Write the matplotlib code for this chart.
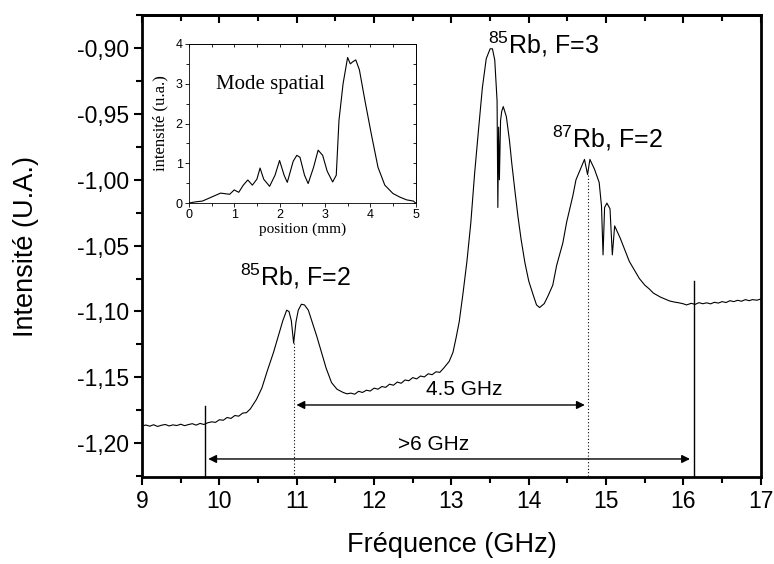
import matplotlib
matplotlib.use("Agg")
import matplotlib.pyplot as plt
from matplotlib.ticker import MultipleLocator, FuncFormatter, NullFormatter

plt.rcParams['font.family'] = ['Liberation Sans', 'DejaVu Sans']
plt.rcParams['mathtext.fontset'] = 'custom'
plt.rcParams['mathtext.rm'] = 'Liberation Sans'

# spectre principal (GHz, U.A.)
freq = [9.00, 9.05, 9.10, 9.15, 9.20, 9.25, 9.30, 9.35, 9.40, 9.45,
        9.50, 9.55, 9.60, 9.65, 9.70, 9.75, 9.80, 9.85, 9.90, 9.95,
        10.00, 10.05, 10.10, 10.15, 10.20, 10.25, 10.30, 10.35, 10.40, 10.48,
        10.55, 10.62, 10.70, 10.76, 10.82, 10.87, 10.90, 10.93, 10.96, 10.99,
        11.02, 11.06, 11.10, 11.15, 11.20, 11.26, 11.32, 11.38, 11.45, 11.52,
        11.60, 11.65, 11.70, 11.75, 11.80, 11.85, 11.90, 11.95, 12.00, 12.05,
        12.10, 12.15, 12.20, 12.25, 12.30, 12.35, 12.40, 12.45, 12.50, 12.55,
        12.60, 12.65, 12.70, 12.75, 12.80, 12.85, 12.90, 12.97, 13.02, 13.06,
        13.10, 13.15, 13.20, 13.25, 13.30, 13.35, 13.40, 13.45, 13.50, 13.53,
        13.56, 13.58, 13.59, 13.60, 13.61, 13.62, 13.635, 13.65, 13.67, 13.71,
        13.75, 13.78, 13.82, 13.86, 13.90, 13.95, 14.00, 14.06, 14.10, 14.14,
        14.20, 14.25, 14.31, 14.36, 14.44, 14.49, 14.57, 14.61, 14.66, 14.72,
        14.76, 14.79, 14.85, 14.91, 14.94, 14.96, 14.98, 15.01, 15.05, 15.08,
        15.11, 15.18, 15.24, 15.30, 15.37, 15.43, 15.50, 15.56, 15.61, 15.70,
        15.82, 15.88, 15.95, 16.00, 16.04, 16.10, 16.15, 16.20, 16.25, 16.30,
        16.35, 16.40, 16.45, 16.50, 16.55, 16.60, 16.65, 16.70, 16.75, 16.80,
        16.85, 16.89, 16.95, 17.00]
intens = [-1.1870, -1.1862, -1.1871, -1.1860, -1.1873, -1.1864, -1.1858, -1.1869, -1.1861, -1.1866,
          -1.1856, -1.1867, -1.1859, -1.1852, -1.1863, -1.1850, -1.1858, -1.1845, -1.1838, -1.1842,
          -1.1822, -1.1826, -1.1805, -1.1812, -1.1790, -1.1795, -1.1772, -1.1768, -1.1740, -1.1667,
          -1.1580, -1.1450, -1.1310, -1.1190, -1.1070, -1.0990, -1.1000, -1.1070, -1.1240, -1.1080,
          -1.0990, -1.0945, -1.0950, -1.0990, -1.1080, -1.1190, -1.1310, -1.1430, -1.1540, -1.1590,
          -1.1615, -1.1625, -1.1620, -1.1628, -1.1606, -1.1615, -1.1598, -1.1604, -1.1582, -1.1590,
          -1.1570, -1.1576, -1.1552, -1.1560, -1.1536, -1.1545, -1.1520, -1.1526, -1.1502, -1.1512,
          -1.1490, -1.1497, -1.1473, -1.1480, -1.1458, -1.1462, -1.1430, -1.1380, -1.1310, -1.1200,
          -1.1080, -1.0860, -1.0620, -1.0330, -0.9950, -0.9620, -0.9300, -0.9080, -0.9005, -0.9005,
          -0.9090, -0.9300, -0.9400, -1.0210, -0.9600, -1.0000, -0.9550, -0.9480, -0.9444, -0.9520,
          -0.9700, -0.9874, -1.0080, -1.0278, -1.0450, -1.0630, -1.0770, -1.0880, -1.0950, -1.0970,
          -1.0940, -1.0880, -1.0800, -1.0650, -1.0480, -1.0320, -1.0120, -1.0000, -0.9930, -0.9845,
          -0.9960, -0.9845, -0.9920, -1.0020, -1.0200, -1.0570, -1.0210, -1.0177, -1.0220, -1.0570,
          -1.0350, -1.0440, -1.0530, -1.0620, -1.0690, -1.0750, -1.0800, -1.0830, -1.0860, -1.0890,
          -1.0920, -1.0928, -1.0935, -1.0942, -1.0950, -1.0938, -1.0946, -1.0933, -1.0941, -1.0934,
          -1.0942, -1.0930, -1.0936, -1.0925, -1.0932, -1.0918, -1.0925, -1.0915, -1.0922, -1.0910,
          -1.0918, -1.0910, -1.0914, -1.0905]

# mode spatial (mm, u.a.)
pos = [0.0, 0.15, 0.3, 0.5, 0.7, 0.9, 1.0, 1.1, 1.2, 1.3,
       1.4, 1.5, 1.57, 1.65, 1.78, 1.9, 2.0, 2.1, 2.17, 2.3,
       2.38, 2.45, 2.55, 2.63, 2.75, 2.85, 2.95, 3.05, 3.17, 3.25,
       3.31, 3.40, 3.50, 3.56, 3.61, 3.68, 3.76, 3.88, 4.02, 4.17,
       4.32, 4.5, 4.65, 4.8, 4.95, 5.0]
mode = [0.0, 0.03, 0.05, 0.15, 0.25, 0.22, 0.33, 0.27, 0.45, 0.58,
        0.45, 0.6, 0.88, 0.6, 0.42, 0.7, 1.07, 0.7, 0.52, 1.05,
        1.2, 1.15, 0.7, 0.49, 0.9, 1.33, 1.2, 0.8, 0.53, 0.7,
        2.08, 3.0, 3.66, 3.5, 3.55, 3.6, 3.35, 2.59, 1.75, 0.9,
        0.45, 0.24, 0.15, 0.08, 0.05, 0.0]

fig = plt.figure(figsize=(7.74, 5.64), dpi=100)
ax = fig.add_axes([0.1835, 0.154, 0.7995, 0.819])

ax.plot(freq, intens, color='black', lw=0.8)

# lignes verticales et fleches
ax.plot([9.81, 9.81], [-1.1717, -1.2258], color='black', lw=1.0)
ax.plot([16.14, 16.14], [-1.077, -1.2258], color='black', lw=1.0)
ax.plot([10.96, 10.96], [-1.124, -1.2258], color='black', lw=0.8, ls=(0, (1, 2)))
ax.plot([14.76, 14.76], [-0.996, -1.2258], color='black', lw=0.8, ls=(0, (1, 2)))
ax.annotate('', xy=(10.96, -1.171), xytext=(14.76, -1.171),
            arrowprops=dict(arrowstyle='<|-|>', color='black', lw=1.0, mutation_scale=12))
ax.annotate('', xy=(9.82, -1.212), xytext=(16.12, -1.212),
            arrowprops=dict(arrowstyle='<|-|>', color='black', lw=1.0, mutation_scale=12))
ax.text(13.16, -1.1595, '4.5 GHz', fontsize=15, ha='center', va='center')
ax.text(12.77, -1.2008, '>6 GHz', fontsize=15, ha='center', va='center')

ax.text(10.27, -1.080, r'$\mathregular{^{85}}$Rb, F=2', fontsize=18, va='baseline')
ax.text(13.47, -0.904, r'$\mathregular{^{85}}$Rb, F=3', fontsize=18, va='baseline')
ax.text(14.30, -0.9758, r'$\mathregular{^{87}}$Rb, F=2', fontsize=18, va='baseline')

ax.set_xlim(9, 17)
ax.set_ylim(-1.2258, -0.875)
ax.xaxis.set_major_locator(MultipleLocator(1))
ax.xaxis.set_minor_locator(MultipleLocator(0.5))
ax.yaxis.set_major_locator(MultipleLocator(0.05))
ax.yaxis.set_minor_locator(MultipleLocator(0.025))
ax.yaxis.set_major_formatter(FuncFormatter(lambda v, p: f"{v:.2f}".replace('.', ',')))
ax.tick_params(which='both', direction='out', width=1.5, labelsize=16.5)
ax.tick_params(which='major', length=6)
ax.tick_params(which='minor', length=4)
for s in ax.spines.values():
    s.set_linewidth(2)

# graduations du haut vers l'interieur
top = ax.secondary_xaxis('top')
top.xaxis.set_major_locator(MultipleLocator(1))
top.xaxis.set_minor_locator(MultipleLocator(0.5))
top.xaxis.set_major_formatter(NullFormatter())
top.tick_params(which='both', direction='in', width=1.5)
top.tick_params(which='major', length=6)
top.tick_params(which='minor', length=4)
top.spines['top'].set_linewidth(2)

ax.set_xlabel('Fréquence (GHz)', fontsize=19.5)
ax.set_ylabel('Intensité (U.A.)', fontsize=19.5)
ax.xaxis.set_label_coords(0.5, -0.118)
ax.yaxis.set_label_coords(-0.166, 0.5)

# encart
ins = fig.add_axes([0.244, 0.640, 0.293, 0.282])
ins.plot(pos, mode, color='black', lw=0.8)
ins.set_xlim(0, 5)
ins.set_ylim(0, 4)
ins.xaxis.set_major_locator(MultipleLocator(1))
ins.xaxis.set_minor_locator(MultipleLocator(0.5))
ins.yaxis.set_major_locator(MultipleLocator(1))
ins.yaxis.set_minor_locator(MultipleLocator(0.5))
ins.tick_params(which='both', direction='out', labelsize=9, pad=1.5, width=0.6)
ins.tick_params(which='major', length=3)
ins.tick_params(which='minor', length=2)
for s in ins.spines.values():
    s.set_linewidth(0.6)

itop = ins.secondary_xaxis('top')
itop.xaxis.set_major_locator(MultipleLocator(1))
itop.xaxis.set_minor_locator(MultipleLocator(0.5))
itop.xaxis.set_major_formatter(NullFormatter())
itop.tick_params(which='both', direction='in', width=0.6, length=2.5)
itop.spines['top'].set_linewidth(0.6)
iright = ins.secondary_yaxis('right')
iright.yaxis.set_major_locator(MultipleLocator(1))
iright.yaxis.set_minor_locator(MultipleLocator(0.5))
iright.yaxis.set_major_formatter(NullFormatter())
iright.tick_params(which='both', direction='in', width=0.6, length=2.5)
iright.spines['right'].set_linewidth(0.6)

ins.set_xlabel('position (mm)', fontsize=11, family='Liberation Serif', labelpad=1)
ins.set_ylabel('intensité (u.a.)', fontsize=12, family='Liberation Serif', labelpad=5)
ins.text(0.6, 2.87, 'Mode spatial', fontsize=15, family='Liberation Serif', va='baseline')

fig.savefig('out.png', dpi=100)
